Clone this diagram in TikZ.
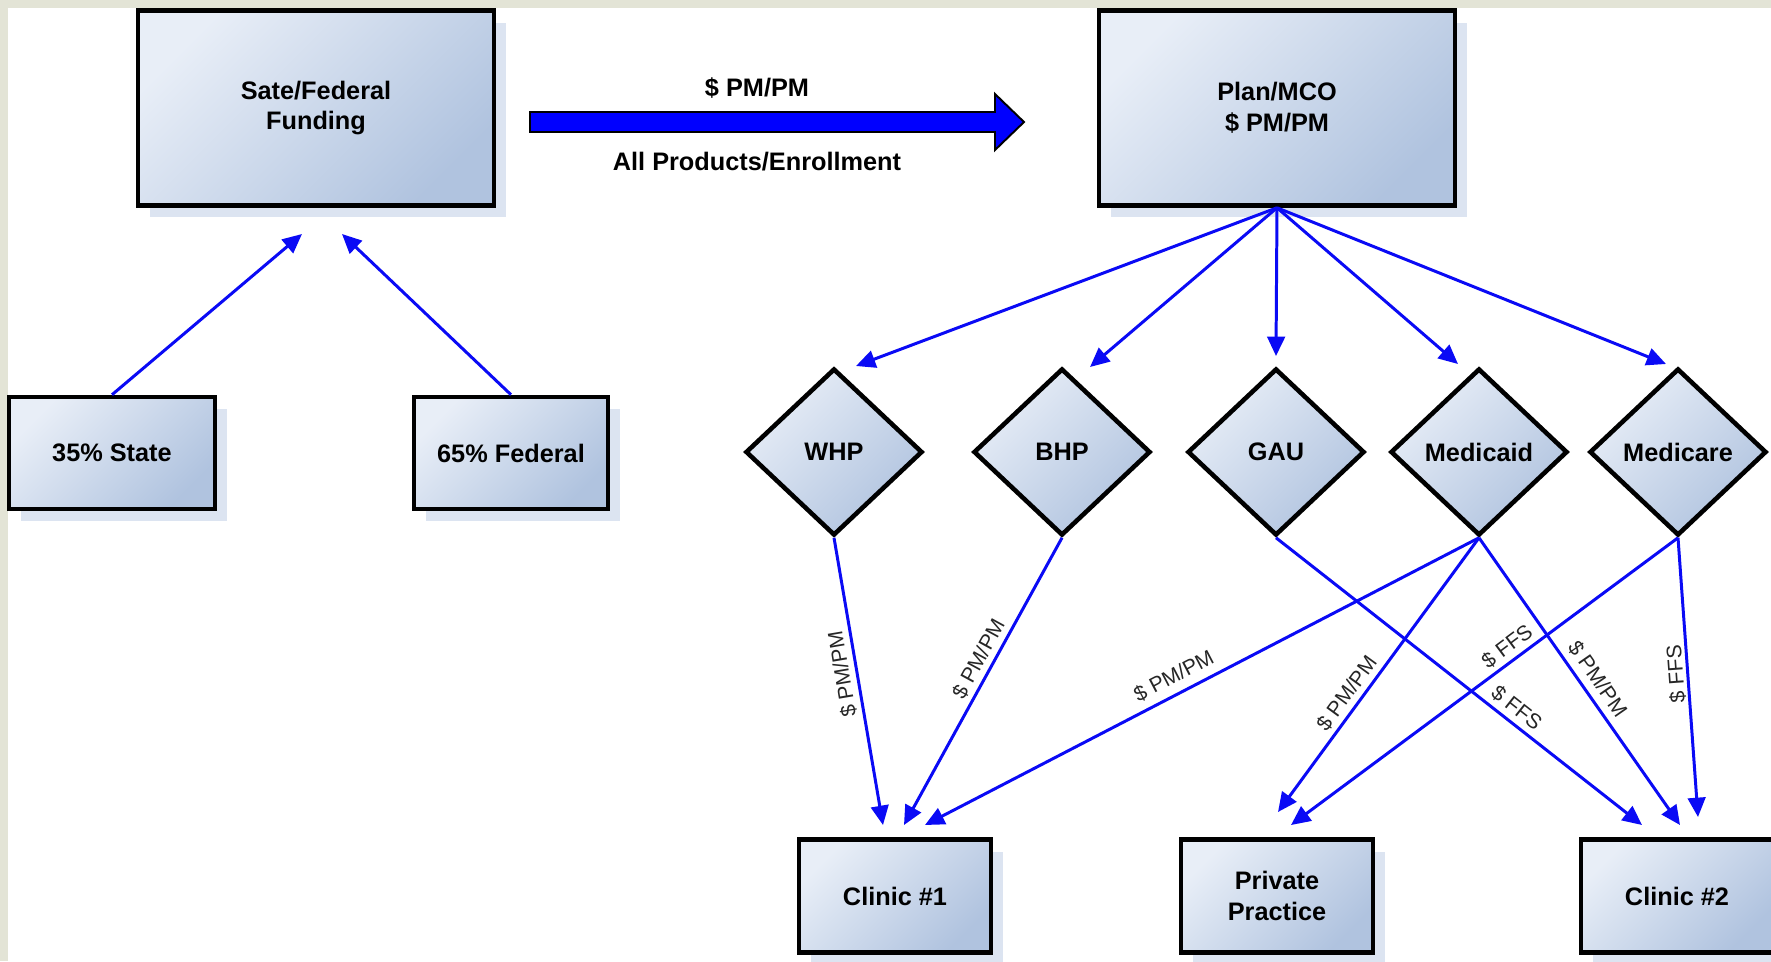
\documentclass[tikz,border=0pt]{standalone}
\usepackage{fontspec}
\setmainfont{Liberation Sans}
\usetikzlibrary{shapes.geometric,arrows.meta,shadows}
\definecolor{framec}{HTML}{E3E4D6}
\definecolor{boxlight}{HTML}{E8EEF7}
\definecolor{boxdark}{HTML}{B0C3DF}
\definecolor{shadowc}{HTML}{DCE4F1}
\definecolor{lineblue}{HTML}{0A0AF5}
\begin{document}
\begin{tikzpicture}[x=0.02cm,y=-0.02cm,
  boxbase/.style={draw=black, line width=2.6pt, top color=boxlight, bottom color=boxdark, shading angle=45,
    font=\fontsize{14.4}{17.5}\selectfont\bfseries, align=center, inner sep=0pt},
  box/.style={boxbase, drop shadow={shadow xshift=0.24cm, shadow yshift=-0.24cm, fill=shadowc, opacity=1}},
  dia/.style={boxbase, diamond, minimum width=3.54cm, minimum height=3.34cm},
  conn/.style={draw=lineblue, line width=1.7pt, -{Triangle[length=11pt,width=10pt]}},
  lbl/.style={font=\fontsize{12}{14}\selectfont, text=black!85, inner sep=2.7pt, anchor=south},
  toplbl/.style={font=\fontsize{14.4}{17.5}\selectfont\bfseries, inner sep=0pt}
]
\useasboundingbox (0,0) rectangle (1771,961);
\clip (0,0) rectangle (1771,961);
\fill[white] (0,0) rectangle (1771,961);
\fill[framec] (0,0) rectangle (1771,8);
\fill[framec] (0,0) rectangle (8,961);

% boxes
\node[box, minimum width=7.12cm, minimum height=3.9cm] (fund) at (316,108) {Sate/Federal\\Funding};
\node[box, minimum width=7.12cm, minimum height=3.9cm] (plan) at (1277,108) {Plan/MCO\\\$ PM/PM};
\node[box, minimum width=4.12cm, minimum height=2.24cm] (state) at (112,453) {35\% State};
\node[box, minimum width=3.88cm, minimum height=2.24cm] (fed) at (511,453) {65\% Federal};
\node[box, minimum width=3.84cm, minimum height=2.26cm] (c1) at (895,896) {Clinic \#1};
\node[box, minimum width=3.84cm, minimum height=2.26cm] (pp) at (1277,896) {Private\\Practice};
\node[box, minimum width=3.84cm, minimum height=2.26cm] (c2) at (1677,896) {Clinic \#2};

% diamonds
\node[dia] (whp) at (834,452) {WHP};
\node[dia] (bhp) at (1062,452) {BHP};
\node[dia] (gau) at (1276,452) {GAU};
\node[dia] (mcd) at (1479,452) {Medicaid};
\node[dia] (mcr) at (1678,452) {Medicare};

% big arrow
\draw[line width=1.1pt, fill=blue] (530,112) -- (995,112) -- (995,94) -- (1024,122) -- (995,150) -- (995,132) -- (530,132) -- cycle;
\node[toplbl] (bigtop) at (757,88) {\$ PM/PM};
\node[toplbl] (bigbot) at (757,162) {All Products/Enrollment};

% free ends
\coordinate (ft1) at (302,234);
\coordinate (ft2) at (342,234);
\coordinate (pw) at (856,366);
\coordinate (pb) at (1090,367);
\coordinate (pg) at (1276,356);
\coordinate (pmd) at (1458,364);
\coordinate (pmc) at (1666,364);
\coordinate (c1a) at (883,825);
\coordinate (c1b) at (904,825);
\coordinate (c1c) at (925,825);
\coordinate (ppa) at (1278,812);
\coordinate (ppb) at (1291,825);
\coordinate (c2a) at (1642,825);
\coordinate (c2b) at (1680,825);
\coordinate (c2c) at (1698,817);

% funding arrows
\draw[conn] (state.north) -- (ft1);
\draw[conn] (fed.north) -- (ft2);

% plan arrows
\draw[conn] (plan.south) -- (pw);
\draw[conn] (plan.south) -- (pb);
\draw[conn] (plan.south) -- (pg);
\draw[conn] (plan.south) -- (pmd);
\draw[conn] (plan.south) -- (pmc);

% lower arrows
\draw[conn] (whp.south) -- node[lbl, pos=0.466, rotate=99.6] (l1) {\$ PM/PM} (c1a);
\draw[conn] (bhp.south) -- node[lbl, pos=0.446, rotate=61.3] (l2) {\$ PM/PM} (c1b);
\draw[conn] (mcd.south) -- node[lbl, pos=0.536, rotate=27.6, inner sep=4.6pt] (l3) {\$ PM/PM} (c1c);
\draw[conn] (mcd.south) -- node[lbl, pos=0.599, rotate=53.9] (l4) {\$ PM/PM} (ppa);
\draw[conn] (gau.south) -- node[lbl, pos=0.633, rotate=-38.3] (l5) {\$ FFS} (c2a);
\draw[conn] (mcr.south) -- node[lbl, pos=0.419, rotate=36.75] (l6) {\$ FFS} (ppb);
\draw[conn] (mcd.south) -- node[lbl, pos=0.524, rotate=-55.2, inner sep=3.6pt] (l7) {\$ PM/PM} (c2b);
\draw[conn] (mcr.south) -- node[lbl, pos=0.485, rotate=94.1, inner sep=1pt] (l8) {\$ FFS} (c2c);
\end{tikzpicture}
\end{document}
